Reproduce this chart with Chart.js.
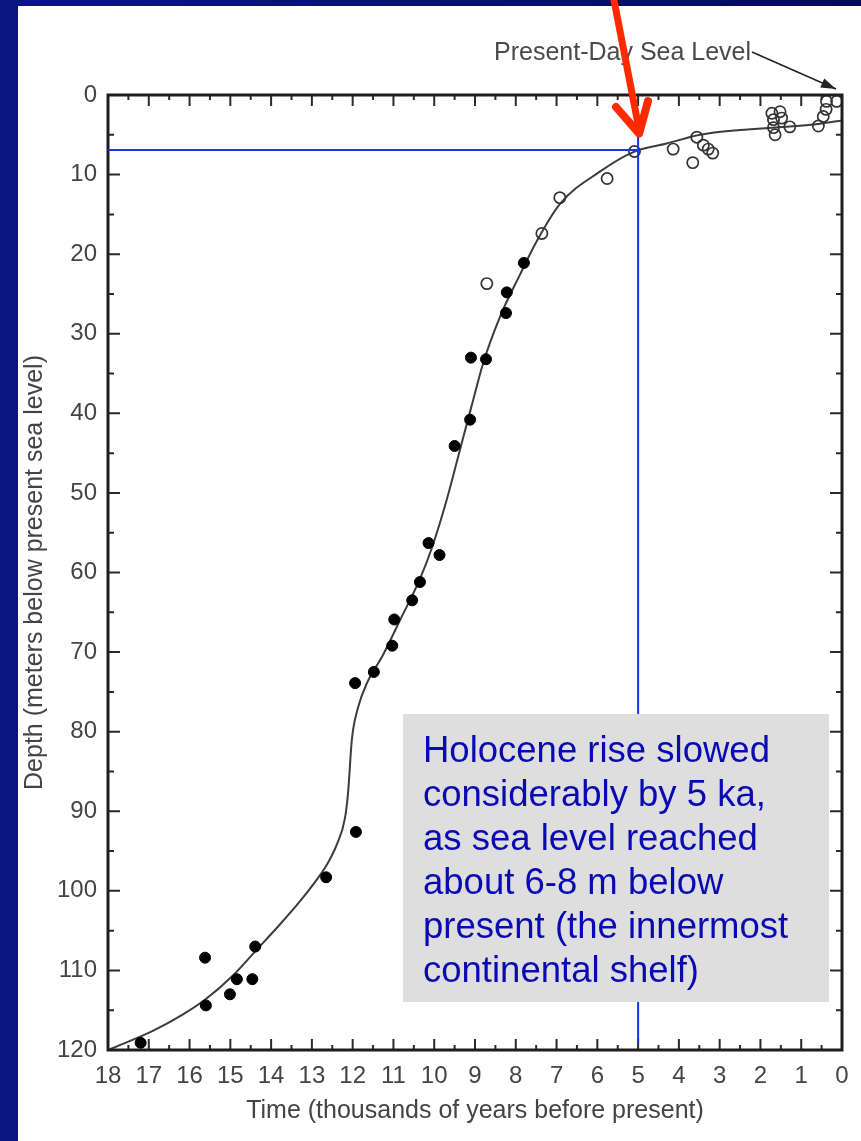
<!DOCTYPE html>
<html>
<head>
<meta charset="utf-8">
<script src="https://cdn.jsdelivr.net/npm/chart.js@4.4.1/dist/chart.umd.min.js"></script>
<style>
  html, body { margin: 0; padding: 0; }
  body { width: 861px; height: 1141px; overflow: hidden; position: relative;
         background: linear-gradient(to right, #0b1683 0%, #071070 50%, #020a5c 100%); }
  #panel { position: absolute; left: 18px; top: 6px; right: 0; bottom: 0; background: #ffffff; }
  #wrap { position: absolute; left: 0; top: 0; width: 861px; height: 1141px; }
</style>
</head>
<body>
<div id="panel"></div>
<div id="wrap"><canvas id="c"></canvas></div>
<script>
// ---------------- data ----------------
const xTickLabels = [18, 17, 16, 15, 14, 13, 12, 11, 10, 9, 8, 7, 6, 5, 4, 3, 2, 1, 0];
const yTickLabels = [0, 10, 20, 30, 40, 50, 60, 70, 80, 90, 100, 110, 120];

// smooth sea-level curve (age in ka, depth in m)
const curveAge   = [18, 16.90, 16.15, 15.60, 14.93, 14.39, 13.78, 13.29, 12.88, 12.63, 12.39, 12.19, 12.11, 12.02, 11.87, 11.65, 11.26, 10.84, 10.35, 10.05, 9.69, 9.37, 9.08, 8.80, 8.39, 7.90, 7.49, 6.92, 5.93, 5.13, 4.30, 3.48, 2.50, 1.37, 0.54, 0];
const curveDepth = [120, 117.6, 115.5, 113.6, 110.6, 107.6, 104.2, 101.3, 98.6, 96.7, 94.2, 90.9, 87.5, 81.0, 77.0, 73.9, 70.4, 66.0, 60.8, 56.8, 50.8, 44.6, 39.0, 33.7, 27.9, 22.6, 18.4, 13.7, 9.6, 7.2, 6.1, 5.0, 4.4, 4.0, 3.6, 3.2];

// filled symbols
const filledAge   = [17.20, 15.62, 15.60, 15.01, 14.84, 14.46, 14.39, 12.65, 11.92, 11.94, 11.48, 11.03, 10.98, 10.54, 10.35, 10.14, 9.87, 9.50, 9.12, 9.10, 8.73, 8.24, 8.22, 7.80];
const filledDepth = [119.1, 108.4, 114.4, 113.0, 111.1, 111.1, 107.0, 98.3, 92.6, 73.9, 72.5, 69.2, 65.9, 63.5, 61.2, 56.3, 57.8, 44.1, 40.8, 33.0, 33.2, 27.4, 24.8, 21.1];

// open symbols
const openAge   = [8.71, 7.36, 6.92, 5.76, 5.09, 4.14, 3.56, 3.66, 3.40, 3.28, 3.17, 1.72, 1.52, 1.68, 1.48, 1.68, 1.64, 1.28, 0.58, 0.46, 0.39, 0.38, 0.13];
const openDepth = [23.7, 17.4, 12.9, 10.5, 7.1, 6.8, 5.3, 8.5, 6.3, 6.8, 7.3, 2.3, 2.1, 3.1, 2.9, 4.1, 5.0, 4.0, 3.9, 2.7, 1.8, 0.8, 0.8];

// guide lines
const guideAge = 5;
const guideDepth = 6.9;

const noteLines = [
  'Holocene rise slowed',
  'considerably by 5 ka,',
  'as sea level reached',
  'about 6-8 m below',
  'present (the innermost',
  'continental shelf)'
];
const seaLevelLabel = 'Present-Day Sea Level';
const xTitle = 'Time (thousands of years before present)';
const yTitle = 'Depth (meters below present sea level)';

// ---------------- chart ----------------
const FONT = "'Liberation Sans', Arial, Helvetica, sans-serif";
const toPts = (xs, ys) => xs.map((v, i) => ({ x: v, y: ys[i] }));

const decor = {
  id: 'decor',
  afterDatasetsDraw(chart) {
    const ctx = chart.ctx;
    const a = chart.chartArea;
    const xs = chart.scales.x, ys = chart.scales.y;
    ctx.save();

    // inward ticks
    ctx.strokeStyle = '#2a2a2a';
    ctx.lineWidth = 2;
    ctx.beginPath();
    for (let v = 0; v <= 18.001; v += 0.5) {
      const px = xs.getPixelForValue(v);
      const len = Math.abs(v - Math.round(v)) < 1e-6 ? 11 : 5;
      ctx.moveTo(px, a.bottom); ctx.lineTo(px, a.bottom - len);
      ctx.moveTo(px, a.top); ctx.lineTo(px, a.top + len);
    }
    for (let v = 0; v <= 120.001; v += 5) {
      const py = ys.getPixelForValue(v);
      const len = (v % 10 === 0) ? 12 : 6;
      ctx.moveTo(a.left, py); ctx.lineTo(a.left + len, py);
      ctx.moveTo(a.right, py); ctx.lineTo(a.right - len, py);
    }
    ctx.stroke();

    // frame
    ctx.lineWidth = 3;
    ctx.strokeStyle = '#1e1e1e';
    ctx.strokeRect(a.left, a.top, a.right - a.left, a.bottom - a.top);

    // blue guide lines
    const gx = xs.getPixelForValue(guideAge);
    const gy = ys.getPixelForValue(guideDepth);
    ctx.strokeStyle = '#1535e6';
    ctx.lineWidth = 2;
    ctx.beginPath();
    ctx.moveTo(a.left, gy); ctx.lineTo(gx, gy);
    ctx.moveTo(gx, ys.getPixelForValue(5.1)); ctx.lineTo(gx, ys.getPixelForValue(119.1));
    ctx.stroke();

    // annotation box
    ctx.fillStyle = '#dedede';
    ctx.fillRect(403, 714, 426, 288);
    ctx.fillStyle = '#0a0ab5';
    ctx.font = '36.5px ' + FONT;
    ctx.textAlign = 'left';
    ctx.textBaseline = 'alphabetic';
    noteLines.forEach((t, i) => ctx.fillText(t, 423, 762 + i * 44));

    // present-day sea level label and leader arrow
    ctx.fillStyle = '#4a4a4a';
    ctx.font = '25px ' + FONT;
    ctx.fillText(seaLevelLabel, 494, 60);
    const sx = 752, sy = 52, ex = xs.getPixelForValue(0) - 6, ey = ys.getPixelForValue(0) - 6;
    ctx.strokeStyle = '#222';
    ctx.lineWidth = 1.5;
    ctx.beginPath(); ctx.moveTo(sx, sy); ctx.lineTo(ex, ey); ctx.stroke();
    const ang = Math.atan2(ey - sy, ex - sx);
    ctx.fillStyle = '#222';
    ctx.beginPath();
    ctx.moveTo(ex, ey);
    ctx.lineTo(ex - 15 * Math.cos(ang) + 5 * Math.sin(ang), ey - 15 * Math.sin(ang) - 5 * Math.cos(ang));
    ctx.lineTo(ex - 15 * Math.cos(ang) - 5 * Math.sin(ang), ey - 15 * Math.sin(ang) + 5 * Math.cos(ang));
    ctx.closePath(); ctx.fill();

    // red arrow
    const tipX = gx + 1, tipY = ys.getPixelForValue(5.1) - 2;
    ctx.strokeStyle = '#ff2a00';
    ctx.lineCap = 'round';
    ctx.lineJoin = 'round';
    ctx.lineWidth = 7;
    ctx.beginPath(); ctx.moveTo(613, -5); ctx.lineTo(tipX, tipY - 4); ctx.stroke();
    ctx.lineWidth = 8;
    ctx.beginPath();
    ctx.moveTo(616, 107); ctx.lineTo(tipX, tipY); ctx.lineTo(648, 101);
    ctx.stroke();

    ctx.restore();
  }
};

new Chart(document.getElementById('c'), {
  type: 'scatter',
  data: {
    datasets: [
      {
        label: 'curve',
        data: toPts(curveAge, curveDepth),
        showLine: true,
        borderColor: '#3c3c3c',
        borderWidth: 2,
        pointRadius: 0,
        cubicInterpolationMode: 'monotone',
        fill: false,
        order: 3
      },
      {
        label: 'filled',
        data: toPts(filledAge, filledDepth),
        pointRadius: 5.5,
        pointBorderWidth: 1,
        backgroundColor: '#000',
        borderColor: '#000',
        clip: false,
        order: 1
      },
      {
        label: 'open',
        data: toPts(openAge, openDepth),
        pointRadius: 5.6,
        pointBorderWidth: 1.7,
        backgroundColor: 'rgba(255,255,255,0)',
        borderColor: '#333',
        clip: false,
        order: 2
      }
    ]
  },
  options: {
    responsive: true,
    maintainAspectRatio: false,
    devicePixelRatio: 1,
    animation: false,
    layout: { padding: { left: 0, top: 95, right: 19, bottom: 0 } },
    plugins: { legend: { display: false }, tooltip: { enabled: false } },
    scales: {
      x: {
        type: 'linear', min: 0, max: 18, reverse: true, position: 'bottom',
        afterBuildTicks: s => { s.ticks = xTickLabels.map(v => ({ value: v })); },
        afterFit: s => { s.height = 91; },
        grid: { display: false, drawTicks: false },
        border: { display: false },
        ticks: { font: { family: FONT, size: 24 }, color: '#444', padding: 12, autoSkip: false, maxRotation: 0, minRotation: 0,
                 callback: v => String(v) },
        title: { display: true, text: xTitle, font: { family: FONT, size: 25 }, color: '#444', padding: { top: 0, bottom: 15 } }
      },
      y: {
        type: 'linear', min: 0, max: 120, reverse: true, position: 'left',
        afterBuildTicks: s => { s.ticks = yTickLabels.map(v => ({ value: v })); },
        afterFit: s => { s.width = 108; },
        grid: { display: false, drawTicks: false },
        border: { display: false },
        ticks: { font: { family: FONT, size: 24 }, color: '#444', padding: 11, autoSkip: false,
                 callback: v => String(v) },
        title: { display: true, text: yTitle, font: { family: FONT, size: 25 }, color: '#444', padding: { top: 20, bottom: 0 } }
      }
    }
  },
  plugins: [decor]
});
</script>
</body>
</html>
